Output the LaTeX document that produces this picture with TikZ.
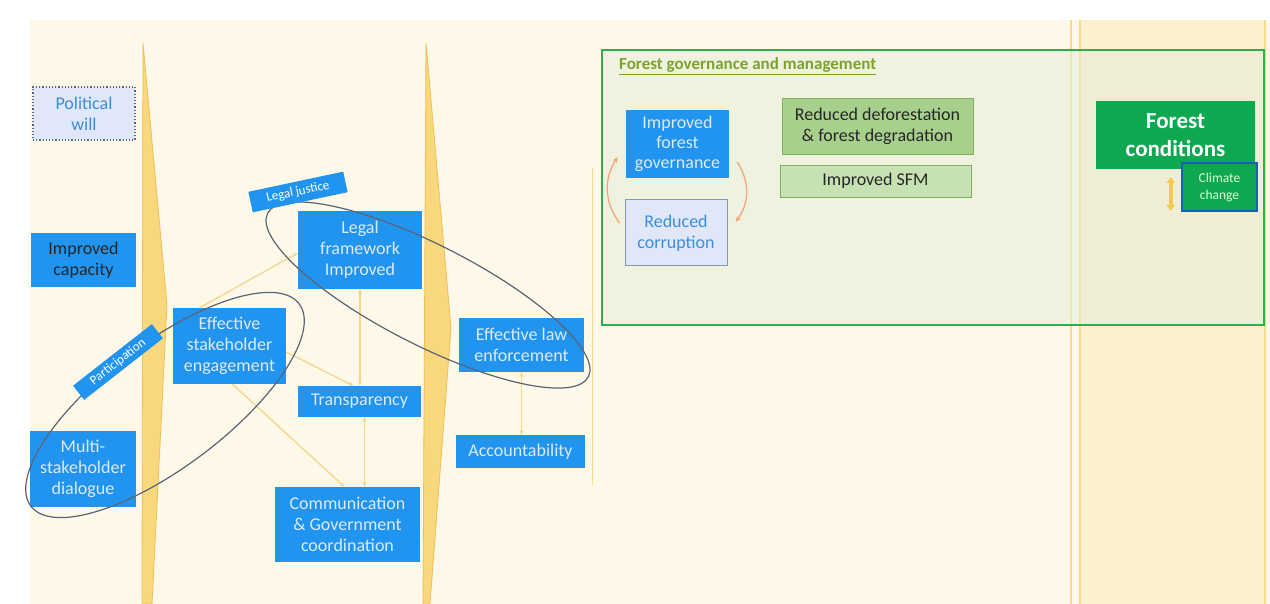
\documentclass[tikz,border=0pt]{standalone}
\usepackage{fontspec}
\setmainfont{Carlito}
\usetikzlibrary{shapes.geometric,arrows.meta}

\definecolor{PageCream}{HTML}{FEF8E8}
\definecolor{ColumnCream}{HTML}{FDF0CF}
\definecolor{SpikeYellow}{HTML}{F9D77C}
\definecolor{SpikeEdge}{HTML}{EBC05A}
\definecolor{RuleYellow}{HTML}{F8DC8E}
\definecolor{BoxBlue}{HTML}{2194F0}
\definecolor{BoxText}{HTML}{DCEAF9}
\definecolor{PaleBlue}{HTML}{DFE7F8}
\definecolor{PaleBlueText}{HTML}{3B8EDD}
\definecolor{PaleBlueEdge}{HTML}{8797B2}
\definecolor{DotEdge}{HTML}{55698C}
\definecolor{FrameGreen}{HTML}{2EAE4F}
\definecolor{FrameFill}{HTML}{E3EED9}
\definecolor{TitleGreen}{HTML}{7BA22E}
\definecolor{DeforGreen}{HTML}{A8D08D}
\definecolor{DeforEdge}{HTML}{7FAF60}
\definecolor{SFMGreen}{HTML}{C6E1B2}
\definecolor{ForestGreen}{HTML}{0DA84F}
\definecolor{ClimateEdge}{HTML}{1C5EB4}
\definecolor{RingGray}{HTML}{5B6376}
\definecolor{LinkYellow}{HTML}{F3D68C}
\definecolor{CycleOrange}{HTML}{F1A77E}
\definecolor{ArrowGold}{HTML}{F3C94C}

\tikzstyle{bluebox}=[rectangle, fill=BoxBlue, text=BoxText, align=center, inner sep=0pt, font=\fontsize{18}{21}\selectfont]
\tikzstyle{palebox}=[bluebox, fill=PaleBlue, text=PaleBlueText]
\tikzstyle{greenbox}=[bluebox, text=black!85, draw=DeforEdge, line width=0.8pt]
\tikzstyle{tagbox}=[bluebox, text=white, font=\fontsize{13}{15}\selectfont]
\tikzstyle{ring}=[draw=RingGray, line width=1.2pt, ellipse, inner sep=0pt]
\tikzstyle{link}=[draw=LinkYellow, line width=1.3pt, -{Stealth[length=5pt,width=4pt]}]
\tikzstyle{twolink}=[draw=LinkYellow, line width=1.3pt, {Stealth[length=5pt,width=4pt]}-{Stealth[length=5pt,width=4pt]}]
\tikzstyle{cyclelink}=[draw=CycleOrange, line width=1.3pt, -{Stealth[length=6pt,width=5pt]}]
\tikzstyle{spike}=[fill=SpikeYellow, draw=SpikeEdge, line width=0.8pt]

\begin{document}
\begin{tikzpicture}[x=1pt, y=-1pt]
      % page and columns
      \fill[white] (0,0) rectangle (1270,604);
      \useasboundingbox (0,0) rectangle (1270,604);
      \fill[PageCream] (30,20) rectangle (1270,604);
      \fill[ColumnCream] (1079,20) rectangle (1265,604);
      \draw[RuleYellow, line width=2pt] (1071,20) -- (1071,604);
      \draw[RuleYellow, line width=2pt] (1080,20) -- (1080,604);
      \draw[RuleYellow, line width=1.5pt] (1265,20) -- (1265,604);
      \path[spike] (143,43) -- (167,305) -- (152,604) -- (142,604) -- cycle;
      \path[spike] (426,43) -- (451,328) -- (430,604) -- (423,604) -- cycle;
      \draw[RuleYellow, line width=1pt] (592,168) -- (592,485);

      % forest governance frame
      \draw[draw=FrameGreen, line width=2.5pt, fill=FrameFill, fill opacity=0.5] (602,50) rectangle (1264,325);
      \node (forestTitle) at (619,66) [anchor=west, inner sep=0pt, text=TitleGreen,
            font=\bfseries\fontsize{17}{20}\selectfont] {\underline{Forest governance and management}};

      % boxes
      \node (political) at (84,113.5)
            [palebox, draw=DotEdge, dotted, line width=1.2pt, minimum width=102pt, minimum height=53pt] {Political\\will};
      \node (capacity) at (83.5,260)
            [bluebox, text=black!85, minimum width=105pt, minimum height=54pt] {Improved\\capacity};
      \node (dialogue) at (83,469)
            [bluebox, minimum width=106pt, minimum height=76pt] {Multi-\\stakeholder\\dialogue};
      \node (engagement) at (229.5,346)
            [bluebox, minimum width=113pt, minimum height=76pt] {Effective\\stakeholder\\engagement};
      \node (legal) at (360,250)
            [bluebox, minimum width=124pt, minimum height=78pt] {Legal\\framework\\Improved};
      \node (transparency) at (359.5,401.5)
            [bluebox, minimum width=123pt, minimum height=31pt] {Transparency};
      \node (communication) at (347.5,524.5)
            [bluebox, minimum width=145pt, minimum height=75pt] {Communication\\\& Government\\coordination};
      \node (enforcement) at (521.5,345)
            [bluebox, minimum width=125pt, minimum height=54pt] {Effective law\\enforcement};
      \node (accountability) at (520.5,451.5)
            [bluebox, minimum width=129pt, minimum height=33pt] {Accountability};
      \node (governance) at (677.5,144)
            [bluebox, minimum width=103pt, minimum height=68pt, font=\fontsize{18}{20}\selectfont] {Improved\\forest\\governance};
      \node (corruption) at (676,233)
            [palebox, draw=PaleBlueEdge, line width=1pt, minimum width=102pt, minimum height=66pt] {Reduced\\corruption};
      \node (deforestation) at (877.5,126)
            [greenbox, fill=DeforGreen, minimum width=191pt, minimum height=56pt] {Reduced deforestation\\\& forest degradation};
      \node (sfm) at (875.5,181)
            [greenbox, fill=SFMGreen, minimum width=191pt, minimum height=32pt] {Improved SFM};
      \node (conditions) at (1175.5,135)
            [bluebox, fill=ForestGreen, text=white, font=\bfseries\fontsize{23}{28}\selectfont,
             minimum width=159pt, minimum height=68pt] {Forest\\conditions};
      \node (climate) at (1219.5,187)
            [bluebox, fill=ForestGreen, text=white!85!green, draw=ClimateEdge, line width=2.5pt,
             font=\fontsize{13.5}{17}\selectfont, minimum width=75pt, minimum height=48pt] {Climate\\change};

      % links
      \draw[link] ([xshift=-30pt]engagement.north) -- ([yshift=-3pt]legal.west);
      \draw[twolink] (legal.south) -- (legal.south |- transparency.north);
      \draw[link] ([yshift=-6pt]engagement.east) -- ([xshift=-6pt]transparency.north);
      \draw[link] ([xshift=3pt]engagement.south) -- ([xshift=-3pt]communication.north);
      \draw[twolink] ([xshift=5pt]transparency.south) -- ([xshift=17pt]communication.north);
      \draw[twolink] (enforcement.south) -- (enforcement.south |- accountability.north);
      \draw[cyclelink] ([xshift=-5pt,yshift=10pt]corruption.west) to[bend left=35] ([xshift=-8pt,yshift=-13pt]governance.west);
      \draw[cyclelink] ([xshift=8pt,yshift=-18pt]governance.east) to[bend left=35] ([xshift=8pt,yshift=11pt]corruption.east);
      \coordinate (arrowTop) at ([xshift=-10pt,yshift=10pt]climate.west);
      \coordinate (arrowBottom) at ([xshift=-10pt,yshift=-24pt]climate.west);
      \draw[ArrowGold, line width=3.5pt, {Latex[length=6pt,width=10pt]}-{Latex[length=6pt,width=10pt]}] (arrowTop) -- (arrowBottom);

      % rings and tags
      \node (participationRing) at (165,405) [ring, minimum width=336pt, minimum height=124pt, rotate=37] {};
      \node (justiceRing) at (428,295) [ring, minimum width=360pt, minimum height=100pt, rotate=-27] {};
      \node (justiceTag) at (298,192) [tagbox, rotate=12, minimum width=97pt, minimum height=21pt] {Legal justice};
      \node (participationTag) at (118,362) [tagbox, rotate=38, minimum width=100pt, minimum height=18pt] {Participation};
\end{tikzpicture}
\end{document}
